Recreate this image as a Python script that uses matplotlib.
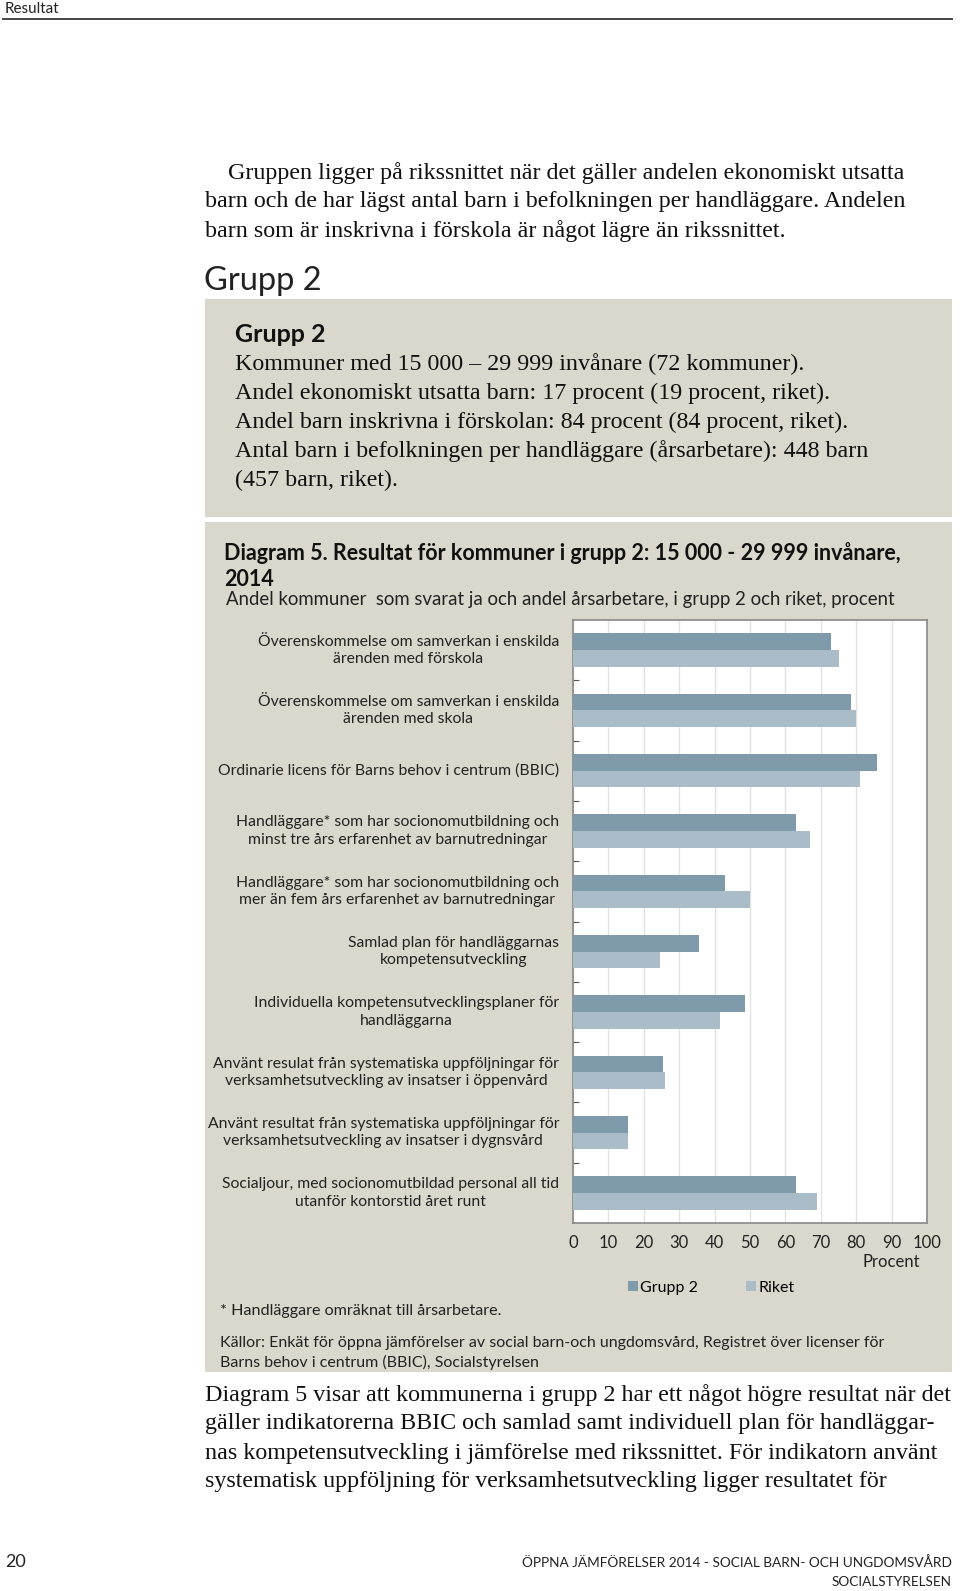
import matplotlib
matplotlib.use("Agg")
import matplotlib.pyplot as plt
from matplotlib.patches import Rectangle
import numpy as np

# data (percent)
categories = [
    "Överenskommelse om samverkan i enskilda\närenden med förskola",
    "Överenskommelse om samverkan i enskilda\närenden med skola",
    "Ordinarie licens för Barns behov i centrum (BBIC)",
    "Handläggare* som har socionomutbildning och\nminst tre års erfarenhet av barnutredningar",
    "Handläggare* som har socionomutbildning och\nmer än fem års erfarenhet av barnutredningar",
    "Samlad plan för handläggarnas\nkompetensutveckling",
    "Individuella kompetensutvecklingsplaner för\nhandläggarna",
    "Använt resulat från systematiska uppföljningar för\nverksamhetsutveckling av insatser i öppenvård",
    "Använt resultat från systematiska uppföljningar för\nverksamhetsutveckling av insatser i dygnsvård",
    "Socialjour, med socionomutbildad personal all tid\nutanför kontorstid året runt",
]
grupp2 = [73, 78.5, 86, 63, 43, 35.5, 48.5, 25.5, 15.5, 63]
riket = [75, 80, 81, 67, 50, 24.5, 41.5, 26, 15.5, 69]
xticks = [0, 10, 20, 30, 40, 50, 60, 70, 80, 90, 100]

SANS = ["Lato", "DejaVu Sans"]
SERIF = ["Liberation Serif", "DejaVu Serif"]
BOX = "#dad8cc"
C_G2 = "#7f9aab"
C_RIKET = "#a9bcc8"
FS_SERIF = 17.3

W, H = 960, 1591
fig = plt.figure(figsize=(W / 100, H / 100), dpi=100)
fig.patch.set_facecolor("white")

# page layer in pixel coordinates
bg = fig.add_axes([0, 0, 1, 1])
bg.set_xlim(0, W)
bg.set_ylim(H, 0)
bg.axis("off")

bg.text(5, 9, "Resultat", fontsize=11, family=SANS, va="center", color="#222222")
bg.plot([3, 952], [19, 19], color="#444444", lw=1.4)

para1 = ["Gruppen ligger på rikssnittet när det gäller andelen ekonomiskt utsatta",
         "barn och de har lägst antal barn i befolkningen per handläggare. Andelen",
         "barn som är inskrivna i förskola är något lägre än rikssnittet."]
for i, line in enumerate(para1):
    bg.text(228 if i == 0 else 205, 173 + i * 29, line, fontsize=FS_SERIF, family=SERIF,
            va="center", color="#111111")

bg.text(204, 281, "Grupp 2", fontsize=23.5, family=SANS, va="center", color="#222222")

# facts box
bg.add_patch(Rectangle((205, 299), 747, 218, facecolor=BOX, edgecolor="none"))
bg.text(235, 335, "Grupp 2", fontsize=18, family=SANS, fontweight="bold", va="center",
        color="#111111")
box_lines = ["Kommuner med 15 000 – 29 999 invånare (72 kommuner).",
             "Andel ekonomiskt utsatta barn: 17 procent (19 procent, riket).",
             "Andel barn inskrivna i förskolan: 84 procent (84 procent, riket).",
             "Antal barn i befolkningen per handläggare (årsarbetare): 448 barn",
             "(457 barn, riket)."]
for i, line in enumerate(box_lines):
    bg.text(235, 364 + i * 29, line, fontsize=FS_SERIF, family=SERIF, va="center",
            color="#111111")

# diagram box
bg.add_patch(Rectangle((205, 522), 747, 850, facecolor=BOX, edgecolor="none"))
bg.text(224, 553, "Diagram 5. Resultat för kommuner i grupp 2: 15 000 - 29 999 invånare,",
        fontsize=15.5, family=SANS, fontweight="bold", va="center", color="#111111")
bg.text(224, 579, "2014", fontsize=15.5, family=SANS, fontweight="bold", va="center",
        color="#111111")
bg.text(226, 600, "Andel kommuner  som svarat ja och andel årsarbetare, i grupp 2 och riket, procent",
        fontsize=13.4, family=SANS, va="center", color="#222222")

bg.text(220, 1311, "* Handläggare omräknat till årsarbetare.", fontsize=11.6, family=SANS,
        va="center", color="#222222")
bg.text(220, 1343, "Källor: Enkät för öppna jämförelser av social barn-och ungdomsvård, "
        "Registret över licenser för", fontsize=11.5, family=SANS, va="center", color="#222222")
bg.text(220, 1362, "Barns behov i centrum (BBIC), Socialstyrelsen", fontsize=11.5, family=SANS,
        va="center", color="#222222")
bg.text(891, 1262, "Procent", fontsize=12, family=SANS, va="center", ha="center",
        color="#222222")

para2 = ["Diagram 5 visar att kommunerna i grupp 2 har ett något högre resultat när det",
         "gäller indikatorerna BBIC och samlad samt individuell plan för handläggar-",
         "nas kompetensutveckling i jämförelse med rikssnittet. För indikatorn använt",
         "systematisk uppföljning för verksamhetsutveckling ligger resultatet för"]
for i, line in enumerate(para2):
    bg.text(205, 1395 + i * 29, line, fontsize=FS_SERIF, family=SERIF, va="center",
            color="#111111")

bg.text(5, 1562, "20", fontsize=13, family=SANS, va="center", color="#222222")
bg.text(952, 1563, "ÖPPNA JÄMFÖRELSER 2014 - SOCIAL BARN- OCH UNGDOMSVÅRD", fontsize=9.8,
        family=SANS, va="center", ha="right", color="#222222")
bg.text(952, 1582, "SOCIALSTYRELSEN", fontsize=9.8, family=SANS, va="center", ha="right",
        color="#222222")

# chart
x0, x1, y0, y1 = 573, 927, 620, 1223
ax = fig.add_axes([x0 / W, 1 - y1 / H, (x1 - x0) / W, (y1 - y0) / H])
ax.set_facecolor("white")
y = np.arange(len(categories))
bh = 0.277
b1 = ax.barh(y - bh / 2, grupp2, height=bh, color=C_G2, label="Grupp 2", zorder=3)
b2 = ax.barh(y + bh / 2, riket, height=bh, color=C_RIKET, label="Riket", zorder=3)
ax.set_xlim(0, 100)
ax.set_ylim(len(categories) - 0.5, -0.5)
ax.set_xticks(xticks)
ax.set_xticklabels([str(t) for t in xticks], fontsize=12, family=SANS, color="#222222")
ax.tick_params(axis="x", length=0, pad=9)
ax.grid(axis="x", color="#e2e2e2", lw=1, zorder=0)
ax.set_yticks(np.arange(0.5, len(categories) - 1, 1))
ax.set_yticklabels([])
ax.tick_params(axis="y", direction="in", length=4, color="#555555")
for s in ax.spines.values():
    s.set_color("#888888")
    s.set_linewidth(1.2)

for i, cat in enumerate(categories):
    yy = y0 + (i + 0.5) * (y1 - y0) / len(categories)
    bg.text(559, yy, cat, fontsize=11.3, family=SANS, ha="right", va="center",
            multialignment="center", color="#222222", linespacing=1.3)

fig.legend(handles=[b1, b2], loc="center left", bbox_to_anchor=(614 / W, 1 - 1288 / H),
           ncol=2, frameon=False, prop={"family": SANS, "size": 11.5},
           handlelength=0.6, handleheight=0.6, handletextpad=0.15, columnspacing=3.0)

fig.savefig("out.png", dpi=100)
